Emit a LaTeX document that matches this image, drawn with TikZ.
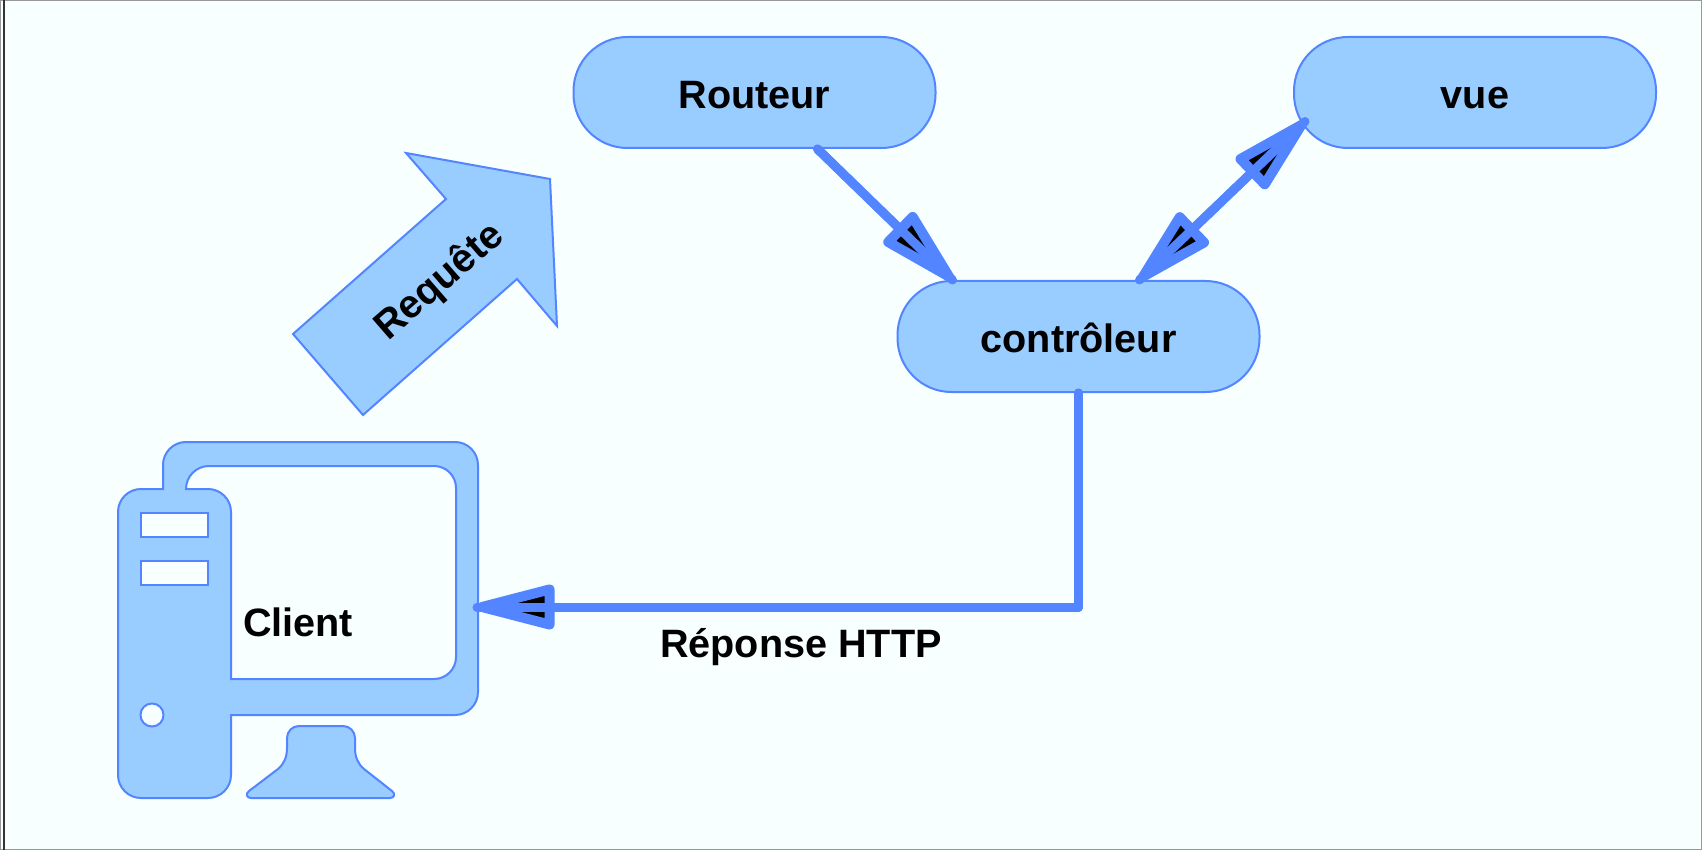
\documentclass[tikz,border=0pt]{standalone}
\usepackage{fontspec}
\setmainfont{Liberation Sans}
\usepackage{tikz}
\usetikzlibrary{arrows.meta,calc}
\definecolor{fondclair}{HTML}{F8FFFF}
\definecolor{bleuclair}{HTML}{99CCFF}
\definecolor{bleutrait}{HTML}{5285FF}
\tikzset{
  % rounded box
  boite/.style={draw=bleutrait, fill=bleuclair, line width=1pt, rounded corners=27pt,
    minimum width=181pt, minimum height=55.5pt, inner sep=0pt, font=\etiquette,
    text height=16pt, text depth=0pt},
  % shapes of the computer
  forme/.style={draw=bleutrait, fill=bleuclair, line width=1pt},
  trou/.style={draw=bleutrait, fill=fondclair, line width=1pt},
  % thick connector
  lien/.style={draw=bleutrait, line width=4.5pt, line cap=round, line join=round},
  pointe/.tip={Triangle[length=47pt, width=22.5pt, round, line width=5pt, fill=black, color=bleutrait]},
  lien simple/.style={lien, -{pointe[fill=black]}, postaction={draw, arrows=-}},
  lien double/.style={lien, {pointe[fill=black]}-{pointe[fill=black]}, postaction={draw, arrows=-}},
  texte/.style={inner sep=0pt, font=\etiquette},
}
\newcommand{\etiquette}{\bfseries\fontsize{19.8pt}{22pt}\selectfont}

\begin{document}
\begin{tikzpicture}[x=0.5pt, y=-0.5pt]

\useasboundingbox (0,0) rectangle (1702,850);
\fill[fondclair] (0,0) rectangle (1702,850);
\draw[black!40, line width=1pt] (0,0) rectangle (1702,850);
\fill[black!80] (3,0) rectangle (5,850);

% Boxes
\node[boite] (routeur) at (754.5,92.5) {Routeur};
\node[boite] (vue) at (1475,92.5) {vue};
\node[boite] (controleur) at (1078.5,336.5) {contrôleur};

% Request arrow
\draw[forme] (293,334) -- (446,199) -- (406,153) -- (550,179) -- (557,326) -- (517,279) -- (363,415) -- cycle;
\node[texte, rotate=41] (requete) at (440,282) {Requête};

% Computer
\draw[forme, even odd rule] (163,489) -- (163,465) arc[start angle=-180, end angle=-90, radius=23] -- (455,442)
  arc[start angle=-90, end angle=0, radius=23] -- (478,692) arc[start angle=0, end angle=90, radius=23]
  -- (231,715) -- (231,775) arc[start angle=0, end angle=90, radius=23] -- (141,798)
  arc[start angle=90, end angle=180, radius=23] -- (118,512) arc[start angle=180, end angle=270, radius=23] -- cycle
  (186,489) arc[start angle=180, end angle=270, radius=23] -- (434,466) arc[start angle=-90, end angle=0, radius=22]
  -- (456,657) arc[start angle=0, end angle=90, radius=22] -- (231,679) -- (231,512)
  arc[start angle=0, end angle=-90, radius=23] -- cycle;
\draw[trou] (141,513) rectangle (208,537);
\draw[trou] (141,561) rectangle (208,585);
\draw[trou] (152,715) circle (11.5);
\draw[forme] (287,738) arc[start angle=180, end angle=270, radius=12] -- (343,726) arc[start angle=-90, end angle=0, radius=12]
  -- (355,748) .. controls (355,757) and (358,764) .. (364,769) -- (392,791) .. controls (396,794) and (394,798) .. (390,798)
  -- (251,798) .. controls (247,798) and (245,794) .. (249,791) -- (278,769) .. controls (284,764) and (287,757) .. (287,748) -- cycle;
\node[texte] (client) at (298,622) {Client};
\coordinate (ecran) at (477,607);

% Connectors
\coordinate (coude) at (controleur.south |- ecran);
\draw[lien simple] ($(routeur.south)+(63,0)$) -- ($(controleur.north)+(-126,0)$);
\draw[lien double] ($(controleur.north)+(61,0)$) -- ($(vue.west)+(12,29)$);
\draw[lien simple] (controleur.south) -- (coude) -- (ecran);

% Caption
\node[texte] (reponse) at (801,647) {Réponse HTTP};

\end{tikzpicture}
\end{document}
